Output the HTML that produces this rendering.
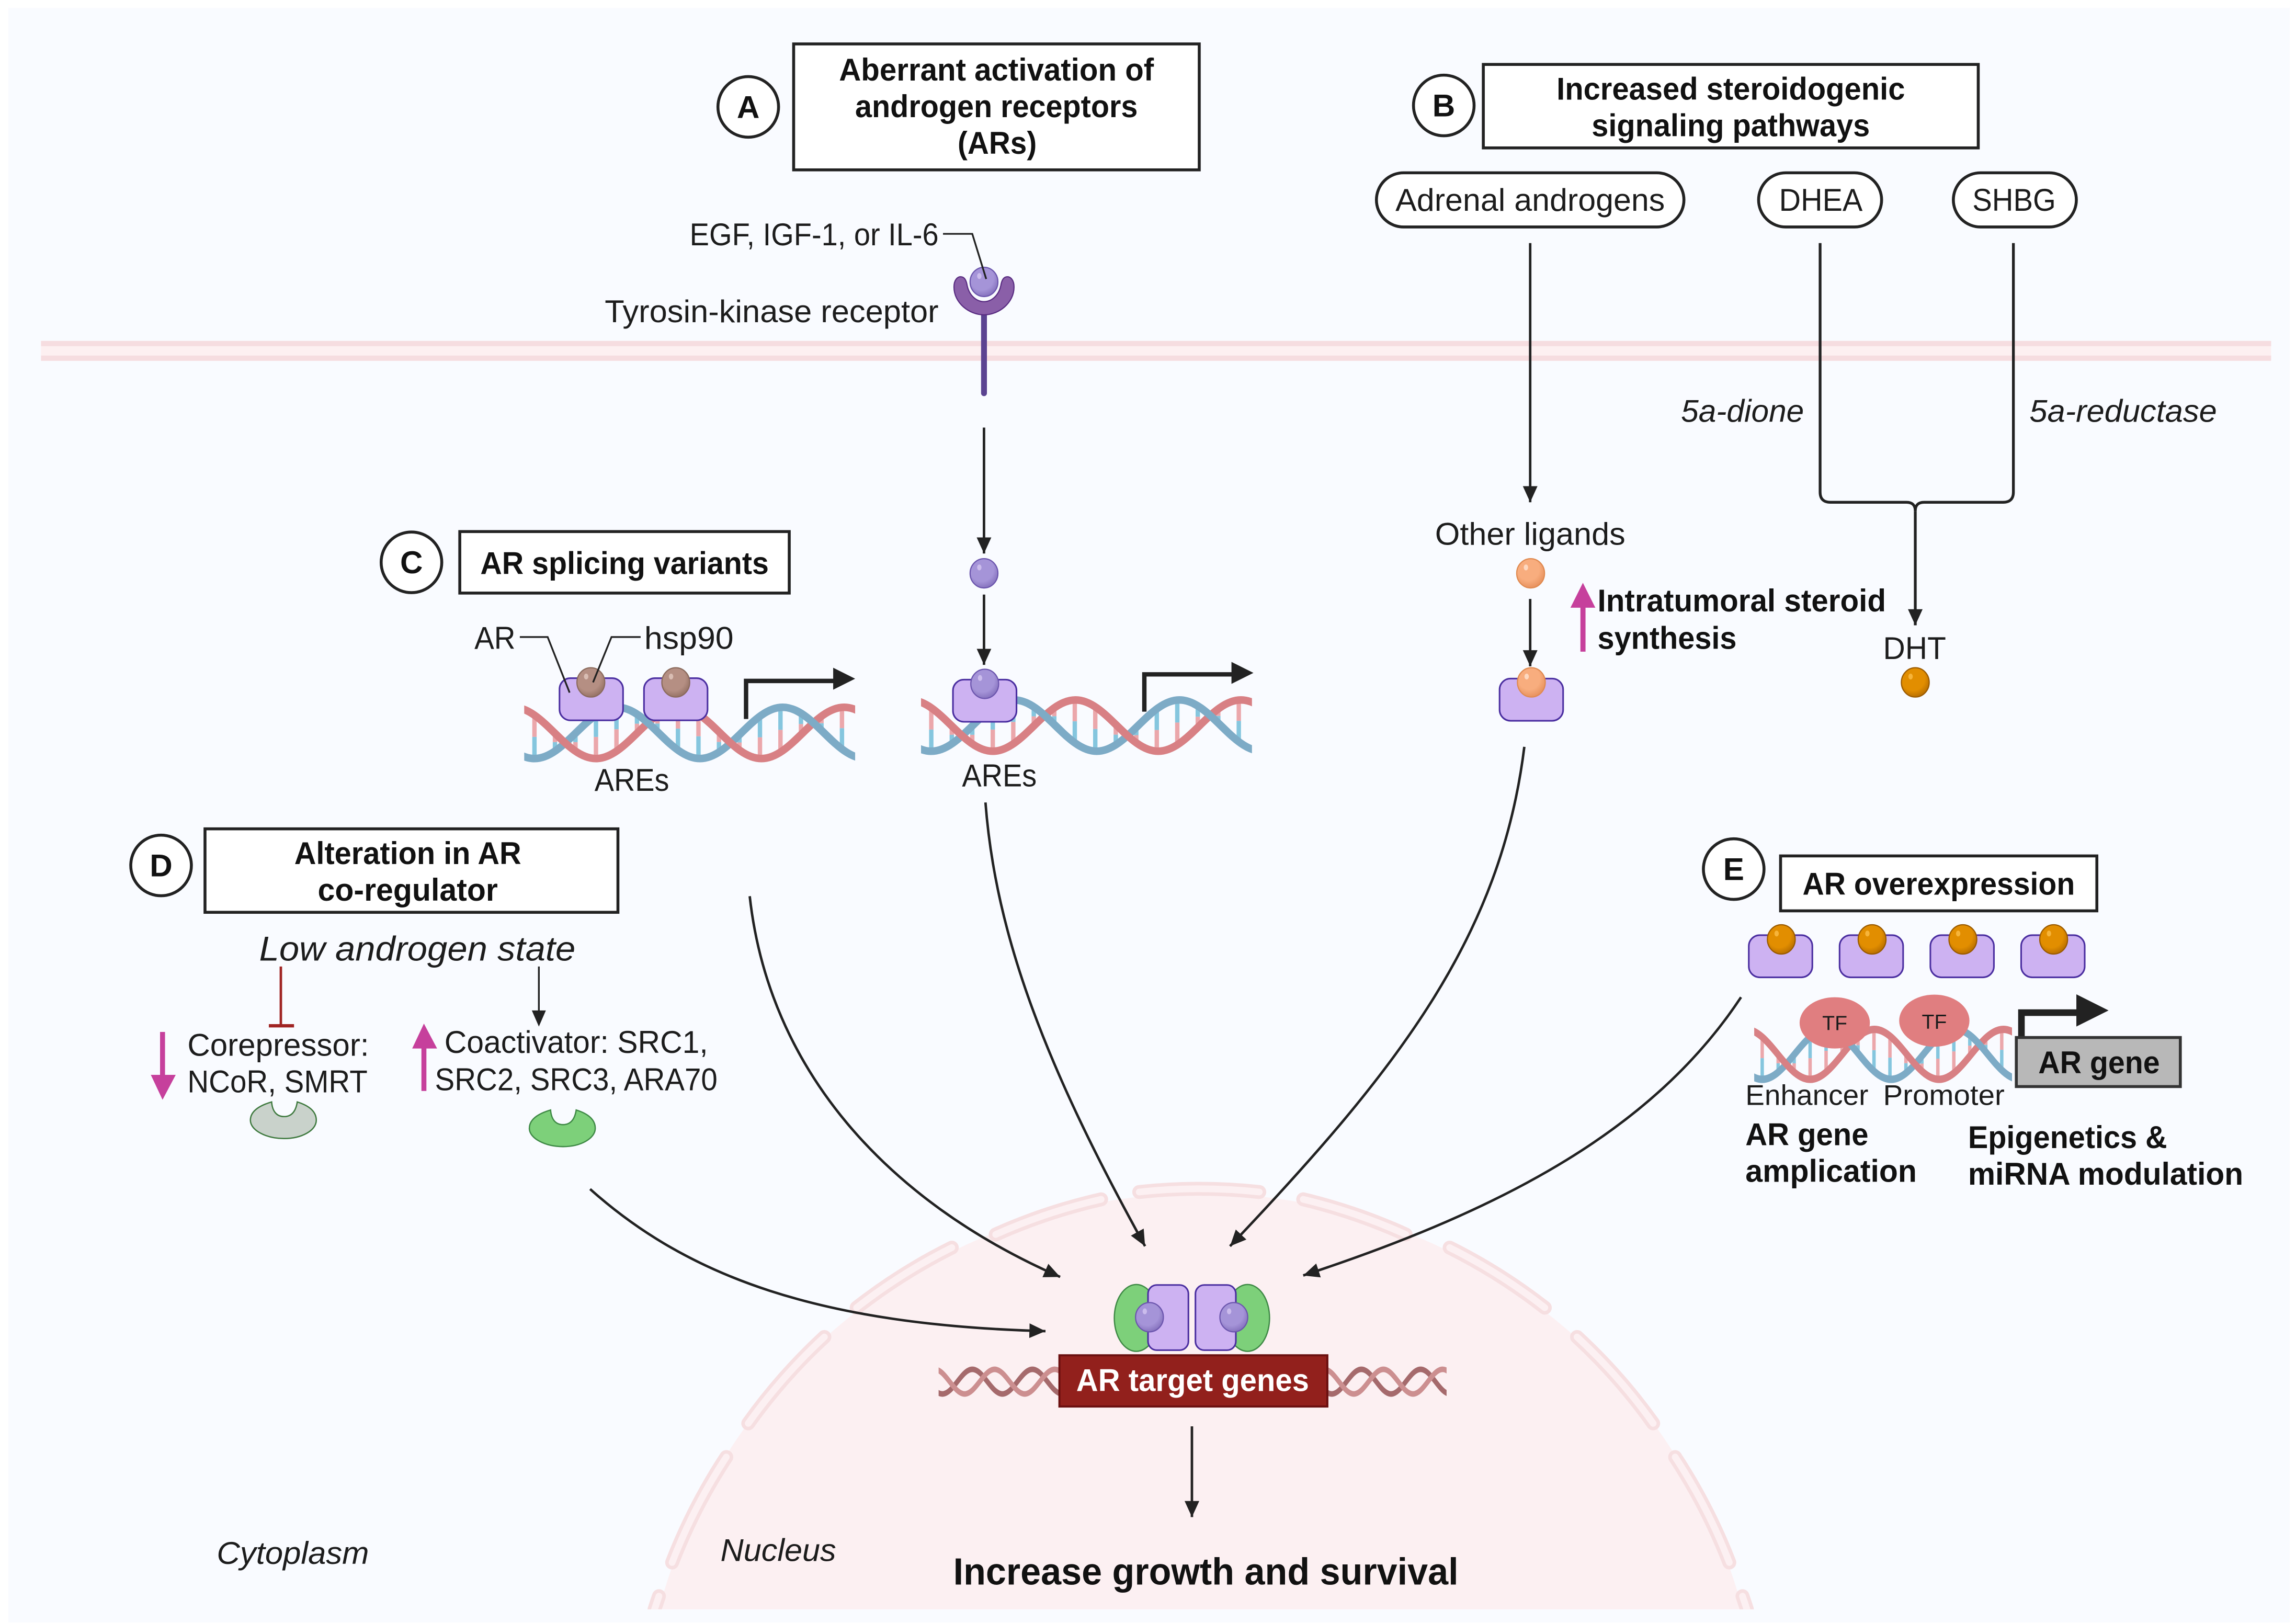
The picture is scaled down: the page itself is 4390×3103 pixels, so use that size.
<!DOCTYPE html>
<html lang="en"><head><meta charset="utf-8"><title>Androgen receptor pathways</title>
<style>
html,body{margin:0;padding:0;background:#fff;width:4390px;height:3103px;overflow:hidden}
svg{display:block}
text{font-family:"Liberation Sans",sans-serif;fill:#1c1c1c;font-size:21.5px}
.b{font-weight:bold;fill:#111}
.i{font-style:italic}
.box{fill:#fff;stroke:#222;stroke-width:2}
.pill{fill:#fff;stroke:#222;stroke-width:2}
.ln{fill:none;stroke:#222;stroke-width:1.7}
.l2{fill:none;stroke:#222;stroke-width:1.9}
.ld{fill:none;stroke:#222;stroke-width:1.2}
.rc{fill:#cdb2f2;stroke:#4a2ea0;stroke-width:1.1}
.pore{fill:none;stroke:#f6dfe1;stroke-width:9.5;stroke-linecap:round}
.por2{fill:none;stroke:#fcf0f2;stroke-width:4.6;stroke-linecap:round}
</style></head><body>
<svg xmlns="http://www.w3.org/2000/svg" width="4390" height="3103" viewBox="0 0 1568 1108.32">
<defs>
<marker id="ah" markerUnits="userSpaceOnUse" markerWidth="12" markerHeight="12" refX="11" refY="6" orient="auto"><path d="M0 1 L11 6 L0 11 Z" fill="#222"/></marker>
<radialGradient id="gp" cx=".42" cy=".36" r=".7"><stop offset=".6" stop-color="#a594d8"/><stop offset="1" stop-color="#7f6bb8"/></radialGradient>
<radialGradient id="gb" cx=".42" cy=".36" r=".7"><stop offset=".6" stop-color="#b58f83"/><stop offset="1" stop-color="#8f6c5f"/></radialGradient>
<radialGradient id="go" cx=".42" cy=".36" r=".7"><stop offset=".6" stop-color="#e28e00"/><stop offset="1" stop-color="#b06800"/></radialGradient>
<radialGradient id="gl" cx=".42" cy=".36" r=".7"><stop offset=".55" stop-color="#f8ad7e"/><stop offset="1" stop-color="#e48c58"/></radialGradient>
<g id="bp"><ellipse rx="9.5" ry="10" fill="url(#gp)" stroke="#6b55ad" stroke-width=".8"/><ellipse cx="-3.2" cy="-4" rx="1.5" ry="2" fill="#cbbcec"/></g>
<g id="bb"><ellipse rx="9.5" ry="10" fill="url(#gb)" stroke="#8a6a5c" stroke-width=".8"/><ellipse cx="-3.2" cy="-4" rx="1.5" ry="2" fill="#d9bdb3"/></g>
<g id="bo"><ellipse rx="9.5" ry="10" fill="url(#go)" stroke="#9a5a00" stroke-width=".8"/><ellipse cx="-3.2" cy="-4" rx="1.5" ry="2" fill="#f6b43a"/></g>
<g id="bl"><ellipse rx="9.5" ry="10" fill="url(#gl)" stroke="#e08a50" stroke-width=".8"/><ellipse cx="-3.2" cy="-4" rx="1.5" ry="2" fill="#fdd8c0"/></g>
<rect id="rb" class="rc" x="-21.7" y="-14.4" width="43.4" height="28.8" rx="7.5"/>
<path id="sb" fill="none" d="M-49.5 -17.5C-28.9 -17.5 -13.6 17.5 7 17.5S42.9 -17.5 63.5 -17.5S99.4 17.5 120 17.5S155.9 -17.5 176.5 -17.5S212.4 17.5 233 17.5"/>
<path id="sr" fill="none" d="M-7.5 -17.5C13.1 -17.5 28.4 17.5 49 17.5S84.9 -17.5 105.5 -17.5S141.4 17.5 162 17.5S197.9 -17.5 218.5 -17.5S254.4 17.5 275 17.5"/>
<clipPath id="cd"><rect x="0" y="-25" width="226" height="50"/></clipPath>
<clipPath id="cx"><rect x="72" y="-25" width="26" height="50"/><rect x="185" y="-25" width="26" height="50"/></clipPath>
<clipPath id="cn"><rect x="0" y="0" width="1568" height="1099"/></clipPath>
<g id="dna"><g clip-path="url(#cd)">
<path fill="none" stroke="#eba7ab" stroke-width="3" d="M7 -12.1V2.7M21 .2V6.3M35 12.5V6.3M49 17.5V2.7M63 12.5V-2.5M77 .2V-6.3M91 -12.1V-6.4M105 -17.5V-2.9M119 -12.8V2.3M133 -.7V6.2M147 11.8V6.5M161 17.5V3M175 13.1V-2.1M189 1.2V-6.1M203 -11.4V-6.6M217 -17.4V-3.2"/>
<path fill="none" stroke="#85c6de" stroke-width="3" d="M7 17.5V2.7M21 12.5V6.3M35 .2V6.3M49 -12.1V2.7M63 -17.5V-2.5M77 -12.8V-6.3M91 -.7V-6.4M105 11.8V-2.9M119 17.5V2.3M133 13.1V6.2M147 1.2V6.5M161 -11.4V3M175 -17.4V-2.1M189 -13.5V-6.1M203 -1.8V-6.6M217 10.9V-3.2"/>
<use href="#sb" stroke="#7dabc6" stroke-width="5.2"/>
<use href="#sr" stroke="#d88084" stroke-width="5.2"/>
<g clip-path="url(#cx)"><use href="#sb" stroke="#7dabc6" stroke-width="5.2"/></g>
</g></g>
<g id="mini"><g clip-path="url(#cd)"><use href="#sb" stroke="#a56a6c" stroke-width="8"/><use href="#sr" stroke="#cc8f90" stroke-width="8"/></g></g>
<path id="pac" d="M185.5 752.5C186 759 189 762.5 194 762.5C199 762.5 202 759 203 752.5C211 755 216 759 216 765C216 772 206 777.5 194 777.5C182 777.5 171 772 171 765C171 759 177 755 185.5 752.5Z"/>
</defs>

<rect width="1568" height="1108.32" fill="#fff"/>
<rect x="5.7" y="5.4" width="1558" height="1102.5" fill="#f9fbff"/>

<!-- nucleus -->
<path d="M450 1099A383 383 0 0 1 1190 1099Z" fill="#fcf0f2"/>
<g clip-path="url(#cn)">
<path class="pore" d="M778 814A385 385 0 0 1 860 814"/>
<path class="pore" d="M890 819A385 385 0 0 1 960 843"/>
<path class="pore" d="M990 852A385 385 0 0 1 1055 893"/>
<path class="pore" d="M1077 913A385 385 0 0 1 1129 972"/>
<path class="pore" d="M1144 995A385 385 0 0 1 1181 1067"/>
<path class="pore" d="M1190 1090A385 385 0 0 1 1193 1099"/>
<path class="pore" d="M752 819A385 385 0 0 0 680 843"/>
<path class="pore" d="M650 852A385 385 0 0 0 585 893"/>
<path class="pore" d="M563 913A385 385 0 0 0 511 972"/>
<path class="pore" d="M496 995A385 385 0 0 0 459 1067"/>
<path class="pore" d="M450 1090A385 385 0 0 0 447 1099"/>
<path class="por2" d="M778 814A385 385 0 0 1 860 814"/>
<path class="por2" d="M890 819A385 385 0 0 1 960 843"/>
<path class="por2" d="M990 852A385 385 0 0 1 1055 893"/>
<path class="por2" d="M1077 913A385 385 0 0 1 1129 972"/>
<path class="por2" d="M1144 995A385 385 0 0 1 1181 1067"/>
<path class="por2" d="M1190 1090A385 385 0 0 1 1193 1099"/>
<path class="por2" d="M752 819A385 385 0 0 0 680 843"/>
<path class="por2" d="M650 852A385 385 0 0 0 585 893"/>
<path class="por2" d="M563 913A385 385 0 0 0 511 972"/>
<path class="por2" d="M496 995A385 385 0 0 0 459 1067"/>
<path class="por2" d="M450 1090A385 385 0 0 0 447 1099"/>
</g>

<!-- membrane -->
<rect x="28" y="232.8" width="1523" height="13.6" fill="#fdf0f1"/>
<rect x="28" y="232.8" width="1523" height="3.6" fill="#f6dde0"/>
<rect x="28" y="242.8" width="1523" height="3.6" fill="#f6dde0"/>

<!-- A -->
<circle cx="511" cy="73" r="20.7" fill="#fff" stroke="#222" stroke-width="2"/>
<text class="b" x="511" y="80.5" text-anchor="middle">A</text>
<rect class="box" x="542" y="30" width="277" height="86"/>
<text class="b" x="573" y="55" textLength="215" lengthAdjust="spacingAndGlyphs">Aberrant activation of</text>
<text class="b" x="584" y="80" textLength="193" lengthAdjust="spacingAndGlyphs">androgen receptors</text>
<text class="b" x="654" y="105" textLength="54" lengthAdjust="spacingAndGlyphs">(ARs)</text>

<text x="471" y="167.500" textLength="170" lengthAdjust="spacingAndGlyphs">EGF, IGF-1, or IL-6</text>
<text x="413" y="220" textLength="228" lengthAdjust="spacingAndGlyphs">Tyrosin-kinase receptor</text>
<rect x="670" y="212" width="4" height="58.5" rx="2" fill="#5b4391"/>
<path d="M651.500 196C651.500 191 654 189 656 189C659 189 660 192 660.500 195C662 202 667 206 672 206C677 206 682 202 683.500 195C684 192 685 189 688 189C690 189 692.500 191 692.500 196C692.500 207 682 215 672 215C662 215 651.500 207 651.500 196Z" fill="#8a5fa8" stroke="#5a2d82" stroke-width=".8"/>
<use href="#bp" x="672" y="192.500"/>
<path class="ld" d="M644 159.700H664L673.500 190.500"/>

<path class="ln" d="M672 292V378" marker-end="url(#ah)"/>
<use href="#bp" x="672" y="391.500"/>
<path class="ln" d="M672 406V454" marker-end="url(#ah)"/>

<!-- center DNA -->
<use href="#dna" x="629" y="495.500"/>
<use href="#rb" x="672.500" y="478.500"/>
<use href="#bp" x="672.500" y="467"/>
<path d="M781.500 486V460.500H842" fill="none" stroke="#222" stroke-width="3"/>
<path d="M841 452L856 459.500L841 467Z" fill="#222"/>
<text x="657" y="537" textLength="51" lengthAdjust="spacingAndGlyphs">AREs</text>

<!-- C -->
<circle cx="281" cy="384" r="20.700" fill="#fff" stroke="#222" stroke-width="2"/>
<text class="b" x="281" y="391.500" text-anchor="middle">C</text>
<rect class="box" x="314" y="363" width="225" height="42"/>
<text class="b" x="328" y="392" textLength="197" lengthAdjust="spacingAndGlyphs">AR splicing variants</text>
<text x="324" y="443" textLength="28" lengthAdjust="spacingAndGlyphs">AR</text>
<text x="440" y="443" textLength="61" lengthAdjust="spacingAndGlyphs">hsp90</text>
<use href="#dna" x="358" y="500.500"/>
<use href="#rb" x="403.800" y="477.500"/>
<use href="#rb" x="461.500" y="477.500"/>
<use href="#bb" x="403.500" y="466"/>
<use href="#bb" x="461.500" y="466"/>
<path class="ld" d="M355 435H374L389 473M437.500 435H417.600L405 466"/>
<path d="M509.500 491V465H570" fill="none" stroke="#222" stroke-width="3"/>
<path d="M569 456L584 463.500L569 471Z" fill="#222"/>
<text x="406" y="540" textLength="51" lengthAdjust="spacingAndGlyphs">AREs</text>

<!-- B -->
<circle cx="986" cy="72" r="20.700" fill="#fff" stroke="#222" stroke-width="2"/>
<text class="b" x="986" y="79.500" text-anchor="middle">B</text>
<rect class="box" x="1013" y="44" width="338" height="57"/>
<text class="b" x="1063" y="68" textLength="238" lengthAdjust="spacingAndGlyphs">Increased steroidogenic</text>
<text class="b" x="1087" y="93" textLength="190" lengthAdjust="spacingAndGlyphs">signaling pathways</text>
<rect class="pill" x="940" y="118" width="210" height="37" rx="18.500"/>
<rect class="pill" x="1201" y="118" width="84" height="37" rx="18.500"/>
<rect class="pill" x="1334" y="118" width="84" height="37" rx="18.500"/>
<text x="953" y="144" textLength="184" lengthAdjust="spacingAndGlyphs">Adrenal androgens</text>
<text x="1215" y="144" textLength="57" lengthAdjust="spacingAndGlyphs">DHEA</text>
<text x="1347" y="144" textLength="57" lengthAdjust="spacingAndGlyphs">SHBG</text>
<path class="ln" d="M1045 166V343" marker-end="url(#ah)"/>
<path class="l2" d="M1243 166V336Q1243 343 1250 343H1302Q1308 343 1308 349M1375 166V336Q1375 343 1368 343H1314Q1308 343 1308 349"/>
<path class="l2" d="M1308 349V427" marker-end="url(#ah)"/>
<text class="i" x="1148" y="288" textLength="84" lengthAdjust="spacingAndGlyphs">5a-dione</text>
<text class="i" x="1386" y="288" textLength="128" lengthAdjust="spacingAndGlyphs">5a-reductase</text>
<text x="980" y="372" textLength="130" lengthAdjust="spacingAndGlyphs">Other ligands</text>
<use href="#bl" x="1045.300" y="391.500"/>
<path class="ln" d="M1045 409V455" marker-end="url(#ah)"/>
<use href="#rb" x="1045.800" y="477.800"/>
<use href="#bl" x="1045.800" y="466"/>
<rect x="1079.300" y="413" width="3.500" height="32" fill="#c6409c"/>
<path d="M1081 398L1089.500 415H1072.500Z" fill="#c6409c"/>
<text class="b" x="1091" y="417.500" textLength="197" lengthAdjust="spacingAndGlyphs">Intratumoral steroid</text>
<text class="b" x="1091" y="443" textLength="95" lengthAdjust="spacingAndGlyphs">synthesis</text>
<text x="1286" y="450" textLength="43" lengthAdjust="spacingAndGlyphs">DHT</text>
<use href="#bo" x="1308" y="466"/>

<!-- D -->
<circle cx="110" cy="591" r="20.700" fill="#fff" stroke="#222" stroke-width="2"/>
<text class="b" x="110" y="598.500" text-anchor="middle">D</text>
<rect class="box" x="140" y="566" width="282" height="57"/>
<text class="b" x="201" y="590" textLength="155" lengthAdjust="spacingAndGlyphs">Alteration in AR</text>
<text class="b" x="217" y="615" textLength="123" lengthAdjust="spacingAndGlyphs">co-regulator</text>
<text class="i" x="177" y="656" style="font-size:23.500px" textLength="216" lengthAdjust="spacingAndGlyphs">Low androgen state</text>
<path d="M191.800 660V701" fill="none" stroke="#a02423" stroke-width="1.700"/>
<path d="M183.600 700.500H200.800" stroke="#a02423" stroke-width="2.300"/>
<path class="ld" d="M368 660V692"/>
<path d="M363.200 690H372.800L368 701Z" fill="#222"/>
<rect x="109.300" y="704.700" width="3.400" height="31" fill="#c6409c"/>
<path d="M103 734H120L111 751Z" fill="#c6409c"/>
<rect x="287.800" y="714" width="3.400" height="31" fill="#c6409c"/>
<path d="M281.500 716H298.500L289.500 699Z" fill="#c6409c"/>
<text x="128" y="721" textLength="124" lengthAdjust="spacingAndGlyphs">Corepressor:</text>
<text x="128" y="746" textLength="123" lengthAdjust="spacingAndGlyphs">NCoR, SMRT</text>
<text x="303.500" y="719" textLength="180" lengthAdjust="spacingAndGlyphs">Coactivator: SRC1,</text>
<text x="297" y="744.500" textLength="193" lengthAdjust="spacingAndGlyphs">SRC2, SRC3, ARA70</text>
<use href="#pac" fill="#c9d2cb" stroke="#3f7a3f" stroke-width=".9"/>
<use href="#pac" x="190.500" y="5.500" fill="#7dd07a" stroke="#3f8a46" stroke-width=".9"/>

<!-- E -->
<circle cx="1184" cy="593.500" r="20.700" fill="#fff" stroke="#222" stroke-width="2"/>
<text class="b" x="1184" y="601" text-anchor="middle">E</text>
<rect class="box" x="1216" y="584.500" width="216" height="37.500"/>
<text class="b" x="1231" y="611" textLength="186" lengthAdjust="spacingAndGlyphs">AR overexpression</text>
<use href="#rb" x="1216" y="653"/><use href="#rb" x="1278" y="653"/><use href="#rb" x="1340" y="653"/><use href="#rb" x="1402" y="653"/>
<use href="#bo" x="1216.500" y="641.500"/><use href="#bo" x="1278.500" y="641.500"/><use href="#bo" x="1340.500" y="641.500"/><use href="#bo" x="1402.500" y="641.500"/>
<g transform="translate(1198 720) scale(.779 .975)"><use href="#dna"/></g>
<ellipse cx="1253" cy="698.500" rx="24" ry="17.500" fill="#e07e80"/>
<ellipse cx="1321" cy="697" rx="24" ry="17.800" fill="#e07e80"/>
<text x="1253" y="703.500" style="font-size:14px" text-anchor="middle">TF</text>
<text x="1321" y="702.500" style="font-size:14px" text-anchor="middle">TF</text>
<path d="M1380.500 710V691.500H1420" fill="none" stroke="#222" stroke-width="4.500"/>
<path d="M1418 679L1440 690L1418 701Z" fill="#222"/>
<rect x="1377" y="708.500" width="112" height="33.500" fill="#b8b8b8" stroke="#333" stroke-width="2"/>
<text class="b" x="1392" y="733" textLength="83" lengthAdjust="spacingAndGlyphs">AR gene</text>
<text x="1192" y="754.500" style="font-size:19.500px" textLength="84" lengthAdjust="spacingAndGlyphs">Enhancer</text>
<text x="1286" y="754.500" style="font-size:19.500px" textLength="83" lengthAdjust="spacingAndGlyphs">Promoter</text>
<text class="b" x="1192" y="782" textLength="84" lengthAdjust="spacingAndGlyphs">AR gene</text>
<text class="b" x="1192" y="807" textLength="117" lengthAdjust="spacingAndGlyphs">amplication</text>
<text class="b" x="1344" y="784" textLength="136" lengthAdjust="spacingAndGlyphs">Epigenetics &amp;</text>
<text class="b" x="1344" y="809" textLength="188" lengthAdjust="spacingAndGlyphs">miRNA modulation</text>

<!-- curves -->
<path class="ln" d="M403 812C470 872 560 905 714 909" marker-end="url(#ah)"/>
<path class="ln" d="M512 612C525 730 605 820 724 872" marker-end="url(#ah)"/>
<path class="ln" d="M673 548C680 640 715 730 782 851" marker-end="url(#ah)"/>
<path class="ln" d="M1041 510C1025 640 955 730 840 851" marker-end="url(#ah)"/>
<path class="ln" d="M1189 681C1130 770 1030 825 890 871" marker-end="url(#ah)"/>

<!-- complex -->
<ellipse cx="776" cy="900" rx="15" ry="22.800" fill="#7dd07a" stroke="#3f8a46" stroke-width=".9"/>
<ellipse cx="852" cy="900" rx="15" ry="22.800" fill="#7dd07a" stroke="#3f8a46" stroke-width=".9"/>
<rect class="rc" x="784" y="877.500" width="27.600" height="44.500" rx="6"/>
<rect class="rc" x="816.400" y="877.500" width="27.600" height="44.500" rx="6"/>
<use href="#bp" x="785" y="899.500"/>
<use href="#bp" x="842.600" y="899.500"/>
<g transform="translate(641 943.500) scale(.363 .48)"><use href="#mini"/></g>
<g transform="translate(907 943.500) scale(.358 .48)"><use href="#mini"/></g>
<rect x="723.500" y="925.500" width="183" height="35" fill="#92201c" stroke="#6b1010" stroke-width="1.400"/>
<text class="b" x="735" y="950" style="fill:#fff" textLength="159" lengthAdjust="spacingAndGlyphs">AR target genes</text>
<path class="ln" d="M814 974V1036" marker-end="url(#ah)"/>

<text class="i" x="148" y="1068" textLength="104" lengthAdjust="spacingAndGlyphs">Cytoplasm</text>
<text class="i" x="492" y="1066" textLength="79" lengthAdjust="spacingAndGlyphs">Nucleus</text>
<text class="b" x="651" y="1082" style="font-size:26px" textLength="345" lengthAdjust="spacingAndGlyphs">Increase growth and survival</text>
</svg>
</body></html>
